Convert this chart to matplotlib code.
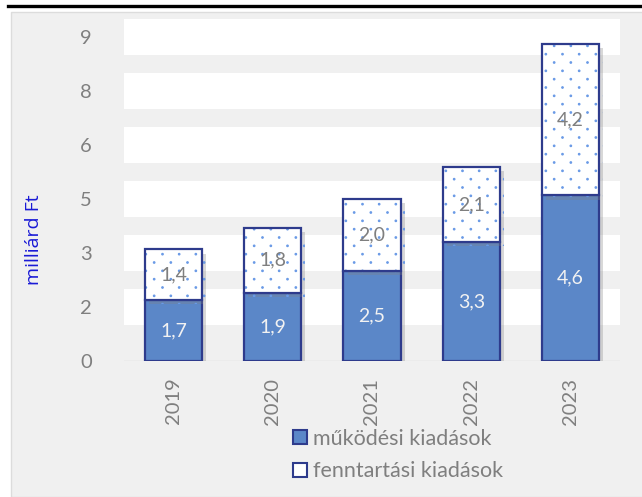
import math
import numpy as np
import matplotlib
matplotlib.use('Agg')
import matplotlib.pyplot as plt
import matplotlib.patheffects as pe
import matplotlib.hatch as mhatch
from matplotlib.path import Path
from matplotlib.patches import Patch, Rectangle
from matplotlib.lines import Line2D

# Data (milliárd Ft)
years = ['2019', '2020', '2021', '2022', '2023']
mukodesi = [1.7, 1.9, 2.5, 3.3, 4.6]
fenntartasi = [1.4, 1.8, 2.0, 2.1, 4.2]
series_names = ['működési kiadások', 'fenntartási kiadások']
y_ticks = [0, 1.5, 3, 4.5, 6, 7.5, 9]


# Excel-like sparse dot pattern: rows close together, dots staggered
class SparseDots(mhatch.Shapes):
    filled = True
    size = 1.0

    def __init__(self, hatch, density):
        circle = Path.unit_circle()
        self.shape_vertices = circle.vertices * 0.008
        self.shape_codes = circle.codes
        self.rows, self.cols = 12, 6
        on = hatch.count('.') > 0
        self.num_shapes = self.rows * self.cols if on else 0
        self.num_vertices = self.num_shapes * len(self.shape_vertices)

    def set_vertices_and_codes(self, vertices, codes):
        vparts, cparts = [], []
        for r in range(self.rows):
            for c in range(self.cols):
                cx = (c + 0.5 * (r % 2) + 0.25) / self.cols
                cy = (r + 0.5) / self.rows
                vparts.append(self.shape_vertices + [cx, cy])
                cparts.append(self.shape_codes)
        np.concatenate(vparts, out=vertices)
        np.concatenate(cparts, out=codes)


mhatch._hatch_types[:] = [SparseDots if t is mhatch.SmallFilledCircles else t
                          for t in mhatch._hatch_types]

plt.rcParams['font.family'] = ['Lato', 'DejaVu Sans']
plt.rcParams['hatch.linewidth'] = 0.8

navy = '#2e3b8c'
blue = '#5b87c8'
dot_blue = '#6a9ae6'
gray_txt = '#7f7f7f'
panel = '#f0f0f0'

fig = plt.figure(figsize=(6.42, 4.97), dpi=100)
fig.patch.set_facecolor('white')

# gray panel behind the chart + cut-off title line on top
fig.add_artist(Rectangle((11 / 642, 0), 1, 1 - 12 / 497, transform=fig.transFigure,
                         facecolor=panel, edgecolor='#dcdcdc', linewidth=1.0, zorder=0))
fig.add_artist(Line2D([8 / 642, 1], [1 - 6 / 497, 1 - 6 / 497], transform=fig.transFigure,
                      color='black', linewidth=2.4))

ax = fig.add_axes([124 / 642, 1 - 361 / 497, 496 / 642, 342 / 497])
ax.set_facecolor(panel)

# wide white "gridline" bands
for t in y_ticks[1:]:
    ax.axhspan(t - 0.5, t + 0.5, color='white', zorder=0.5, linewidth=0)
ax.axhline(0, color='#d9d9d9', linewidth=1.0, zorder=1)

x = np.arange(len(years))
w = 0.575
shadow = [pe.SimplePatchShadow(offset=(3, -3), shadow_rgbFace='#808080', alpha=0.3), pe.Normal()]

b1 = ax.bar(x, mukodesi, w, color=blue, edgecolor=navy, linewidth=1.6, zorder=3)
for p in b1:
    p.set_path_effects(shadow)
b2 = ax.bar(x, fenntartasi, w, bottom=mukodesi, color='white', edgecolor=dot_blue,
            hatch='.', linewidth=0, zorder=3)
for p in b2:
    p.set_path_effects(shadow)
ax.bar(x, fenntartasi, w, bottom=mukodesi, color='none', edgecolor=navy, linewidth=1.6, zorder=4)

for i in range(len(years)):
    ax.text(x[i], mukodesi[i] / 2, f'{mukodesi[i]:.1f}'.replace('.', ','),
            ha='center', va='center', color='#f2f2f2', fontsize=14, zorder=5)
    ax.text(x[i], mukodesi[i] + fenntartasi[i] / 2, f'{fenntartasi[i]:.1f}'.replace('.', ','),
            ha='center', va='center', color=gray_txt, fontsize=14, zorder=5)

ax.set_xlim(-0.5, len(years) - 0.5)
ax.set_ylim(0, 9.5)
ax.set_yticks(y_ticks)
ax.set_yticklabels([str(int(math.floor(v + 0.5))) for v in y_ticks])
ax.set_xticks(x)
ax.set_xticklabels(years, rotation=90)
ax.tick_params(axis='y', length=0, pad=23, labelsize=14.5, labelcolor=gray_txt)
ax.tick_params(axis='x', length=0, pad=12, labelsize=14.5, labelcolor=gray_txt)
for s in ax.spines.values():
    s.set_visible(False)

ax.set_ylabel('milliárd Ft', color='#1a1ad6', fontsize=14, family=['Open Sans', 'DejaVu Sans'])
ax.yaxis.set_label_coords(-0.163, 0.355)

handles = [Patch(facecolor=blue, edgecolor=navy, linewidth=1.5),
           Patch(facecolor='white', edgecolor=navy, linewidth=1.5)]
leg = fig.legend(handles, series_names, loc='center', bbox_to_anchor=(398 / 642, 1 - 455 / 497),
                 frameon=False, fontsize=15.5, labelcolor=gray_txt, handlelength=0.65,
                 handleheight=0.65, handletextpad=0.3, labelspacing=0.6, borderaxespad=0)

fig.savefig('out.png', dpi=100)
